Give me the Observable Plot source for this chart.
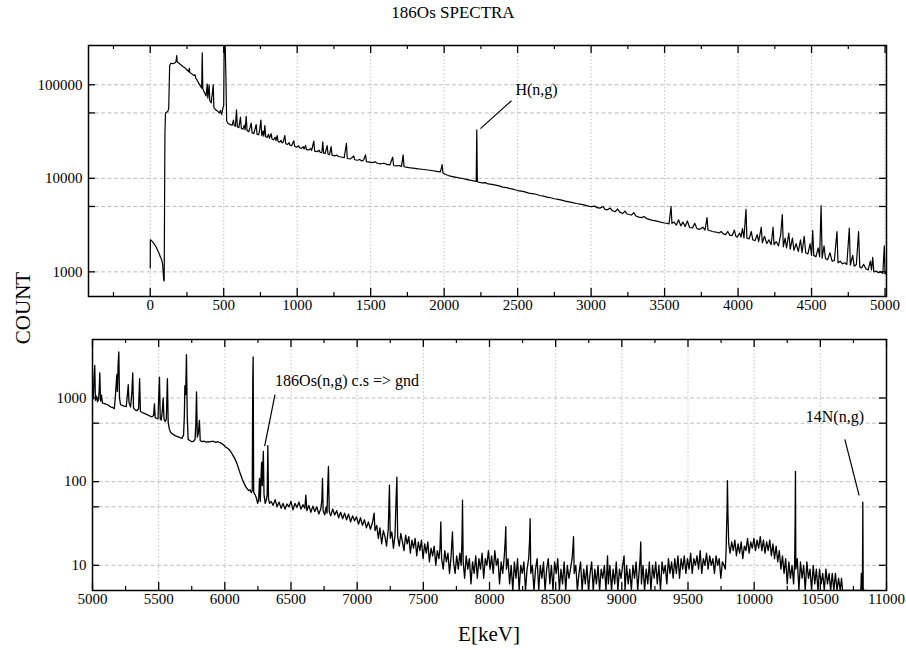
<!DOCTYPE html>
<html><head><meta charset="utf-8">
<script src="https://cdn.jsdelivr.net/npm/d3@7"></script>
<script src="https://cdn.jsdelivr.net/npm/@observablehq/plot@0.6"></script>
<style>
body{margin:0;background:#fff;}
#wrap{position:relative;width:906px;height:650px;font-family:"Liberation Serif","Times New Roman",serif;color:#000;}
.lbl{position:absolute;white-space:nowrap;line-height:1;}
#wrap svg, #wrap svg text{font-family:"Liberation Serif","Times New Roman",serif !important;}
</style></head><body>
<div id="wrap">
<div id="top" style="position:absolute;left:0;top:0;"></div>
<div id="bot" style="position:absolute;left:0;top:322px;"></div>
<div class="lbl" style="left:0;width:906px;top:4px;text-align:center;font-size:17px;">186Os SPECTRA</div>
<div class="lbl" style="left:23px;top:308px;transform:translate(-50%,-50%) rotate(-90deg);font-size:21px;">COUNT</div>
<div class="lbl" style="left:489px;top:634px;transform:translate(-50%,-50%);font-size:21px;">E[keV]</div>
</div>
<script>
// ---- data: top panel spectrum (E keV, counts)
const topSpectrum = [
[0,1100],[1,2200],[10,2150],[20,2050],[30,1950],[40,1850],[50,1700],[60,1580],[70,1430],[78,1350],[84,1220],[88,1000],[92,820],[95,800],[100,30000],[104,50000],[112,51000],[120,52000],[126,56000],[132,160000],[140,170000],[155,168000],[170,172000],[176,178000],[180,205000],[184,175000],[200,168000],[220,158000],[240,150000],[251,144000],[262,138000],[266,150000],[270,135000],[285,130000],[297,126000],[305,128000],[310,118000],[319,112000],[330,104000],[340,98000],[350,92000],[354,220000],[358,90000],[370,82000],[380,76000],[388,102000],[392,72000],[401,100000],[405,68000],[415,64000],[429,100000],[433,57000],[445,54000],[460,52000],[470,50000],[478,53000],[486,48000],[494,56000],[500,60000],[503,300000],[510,300000],[515,120000],
[520,41000],[530,38500],[545,37500],[558,37000],[566,42000],[572,36500],[580,36000],[587,54000],[593,35500],[603,34800],[614,45000],[620,34200],[632,33500],[640,37000],[646,33000],[653,46000],[659,32500],[670,31500],[680,35000],[687,39000],[693,30800],[705,30000],[713,33500],[721,37600],[727,29500],[738,29200],[745,33000],[753,42000],[759,28500],[767,32000],[773,28200],[780,36700],[786,27800],[795,27300],[805,29500],[811,26800],[823,30000],[829,26300],[840,25800],[850,27500],[856,25300],[864,28700],[870,24800],[880,24300],[890,25500],[896,23900],[905,24500],[916,28700],[922,23400],[935,23000],[945,24000],[951,22600],[962,22300],[977,25200],[983,21900],[995,21500],
[1010,22300],[1016,21200],[1030,20900],[1041,21800],[1047,20600],[1057,22500],[1063,20300],[1078,20100],[1092,20800],[1098,19800],[1113,25000],[1119,19500],[1135,19300],[1150,19900],[1156,19000],[1168,18800],[1174,24500],[1180,18600],[1190,18400],[1198,20500],[1204,22400],[1210,18100],[1220,17900],[1231,21800],[1237,17700],[1255,17400],[1270,17700],[1280,17100],[1300,16900],[1320,16600],[1335,23700],[1341,16300],[1360,16100],[1372,16600],[1385,17400],[1391,15800],[1410,15600],[1425,15900],[1440,15300],[1452,15700],[1465,17800],[1471,15100],[1490,14900],[1510,14700],[1530,15000],[1545,14500],[1570,14300],[1590,14500],[1610,14100],[1630,13900],[1650,16800],[1656,13700],[1675,13600],[1695,13700],[1710,13400],[1721,17800],[1727,13300],[1750,13100],[1775,12900],[1800,12800],[1825,12600],[1850,12500],[1875,12350],[1900,12200],[1925,12050],[1950,11850],[1975,11700],[1986,14000],[1992,11400],
[2010,11000],[2030,10700],[2050,10500],[2075,10300],[2100,10100],[2125,9950],[2150,9750],[2175,9550],[2200,9400],[2218,9250],[2222,33000],[2226,9200],[2240,9050],[2260,8950],[2280,9000],[2300,8700],[2325,8600],[2350,8450],[2375,8300],[2400,8050],[2425,7950],[2450,7750],[2475,7600],[2500,7400],[2525,7300],[2550,7150],[2575,6950],[2600,6850],[2625,6750],[2650,6550],[2675,6450],[2700,6300],[2725,6200],[2750,6050],[2775,5950],[2800,5850],[2825,5700],[2850,5600],[2875,5500],[2900,5380],[2925,5300],[2950,5200],[2975,5080],
[3000,4970],[3025,5050],[3040,4850],[3060,4800],[3080,5000],[3095,4650],[3110,4600],[3130,4800],[3145,4500],[3165,4400],[3180,4700],[3195,4350],[3215,4200],[3230,4450],[3245,4150],[3260,4100],[3275,4050],[3290,4300],[3305,3950],[3325,3850],[3345,3800],[3360,3900],[3380,3700],[3400,3620],[3420,3550],[3440,3500],[3460,3450],[3480,3380],[3500,3330],[3520,3300],[3530,3250],[3544,5000],[3550,3300],[3565,3400],[3580,3150],[3595,3600],[3610,3100],[3625,3400],[3640,3050],[3655,3500],[3670,2980],[3690,2950],[3705,3300],[3720,2900],[3740,2850],[3760,3000],[3775,2800],[3789,3800],[3795,2800],[3810,2750],[3825,2700],[3840,2680],[3855,2650],[3870,2600],[3885,2700],[3900,2550],[3915,2500],[3930,2700],[3945,2450],[3960,2450],[3975,2800],[3985,2400],[3995,2350],
[4010,2600],[4020,2350],[4030,2900],[4040,2300],[4054,4650],[4060,2300],[4075,2250],[4090,2700],[4100,2200],[4115,2150],[4130,2500],[4140,2100],[4158,3000],[4165,2050],[4180,2400],[4195,2000],[4210,2200],[4225,1950],[4238,3000],[4245,1950],[4260,2100],[4275,1900],[4290,2500],[4301,4100],[4308,1850],[4320,2300],[4330,1800],[4345,2600],[4355,1750],[4370,2300],[4380,1700],[4395,2000],[4410,1650],[4425,2200],[4435,1600],[4450,2400],[4460,1600],[4475,1550],[4490,2000],[4500,1500],[4508,2770],[4515,1500],[4530,1450],[4545,1800],[4555,1450],[4565,5100],[4572,1400],[4585,1900],[4595,1380],[4610,1350],[4625,1600],[4640,1300],[4655,1320],[4673,2700],[4680,1250],[4695,1300],[4710,1220],[4725,1250],[4740,1200],[4757,2930],[4764,1180],[4780,1500],[4790,1150],[4805,1200],[4820,2700],[4828,1130],[4840,1100],[4855,1200],[4870,1080],[4885,1050],[4900,1300],[4908,1050],[4916,1430],[4924,1000],[4940,1020],[4955,980],[4970,1000],[4985,960],[4995,1900],[5000,950],[5010,980]
];
// ---- data: bottom panel spectrum (E keV, counts)
const bottomSpectrum = [
[5000,950],[5006,1000],[5012,1800],[5017,2450],[5022,940],[5030,1050],[5038,900],[5046,960],[5051,1300],[5055,2000],[5061,920],[5068,1080],[5075,870],[5088,860],[5100,845],[5115,830],[5128,800],[5140,780],[5152,770],[5165,745],[5172,1000],[5178,1400],[5184,1900],[5188,1200],[5194,2600],[5199,3550],[5204,1000],[5212,830],[5225,815],[5240,800],[5255,790],[5264,1100],[5270,1440],[5276,880],[5288,780],[5298,1200],[5304,2000],[5310,760],[5322,720],[5335,705],[5348,740],[5356,1700],[5362,690],[5378,670],[5392,655],[5405,640],[5420,625],[5435,605],[5450,595],[5462,620],[5468,850],[5474,580],[5485,570],[5495,565],[5501,1100],[5506,1780],[5512,560],[5520,545],[5528,720],[5534,1000],[5540,560],[5550,525],[5558,560],[5566,1700],[5572,510],[5580,430],[5590,390],[5603,372],[5618,360],[5633,350],[5648,342],[5662,335],[5676,330],[5688,360],[5694,600],[5698,1400],[5704,1100],[5710,3300],[5716,600],[5723,320],[5738,308],[5752,300],[5765,305],[5775,320],[5781,500],[5786,1180],[5792,340],[5800,380],[5808,540],[5814,310],[5828,300],[5843,305],[5858,296],[5873,300],[5888,298],[5903,304],[5918,300],[5933,295],[5948,300],[5963,292],[5978,285],[5993,272],
[6008,258],[6023,250],[6038,236],[6053,217],[6068,198],[6080,182],[6093,162],[6105,142],[6117,124],[6130,109],[6140,100],[6150,92],[6160,86],[6170,82],[6180,78],[6190,80],[6200,74],[6207,78],[6211,1600],[6214,3100],[6218,75],[6228,70],[6238,64],[6248,55],[6256,62],[6262,109],[6268,58],[6274,120],[6278,171],[6283,90],[6287,140],[6291,230],[6296,70],[6305,55],[6313,60],[6320,70],[6325,270],[6330,62],[6338,55],[6350,58],
[6365,52],[6380,61],[6395,50],[6410,57],[6425,48],[6440,55],[6455,47],[6470,54],[6485,50],[6500,58],[6515,46],[6530,55],[6545,49],[6560,57],[6575,47],[6590,53],[6605,48],[6612,69],[6620,45],[6635,52],[6650,43],[6665,51],[6680,44],[6695,50],[6710,41],[6725,47],[6733,60],[6738,109],[6743,45],[6755,40],[6765,50],[6772,42],[6778,90],[6783,152],[6789,44],[6800,39],[6815,47],[6830,40],[6845,45],[6860,37],[6875,43],[6890,36],[6905,42],[6920,35],[6935,41],[6950,33],[6965,39],[6980,34],[6995,38],
[7010,31],[7025,37],[7040,30],[7055,35],[7070,28],[7085,33],[7100,27],[7115,32],[7128,42],[7135,26],[7148,30],[7160,21],[7172,28],[7185,18],[7198,26],[7210,22],[7222,17],[7235,27],[7244,91],[7250,21],[7262,25],[7274,16],[7286,23],[7293,55],[7300,113],[7306,22],[7318,17],[7330,24],[7342,19],[7354,15],[7366,23],[7378,18],[7390,22],[7402,14],[7414,20],[7426,16],[7438,21],[7450,13],[7462,19],[7474,15],[7486,20],[7498,12],[7510,18],[7522,14],[7534,19],[7546,11],[7558,16],[7570,13],[7582,17],[7594,10],[7606,15],[7618,12],[7626,16],[7632,33],[7638,12],[7650,9],[7662,15],[7674,11],[7686,14],[7698,8],[7710,13],[7720,25],[7728,11],[7740,8],[7752,13],[7764,9],[7776,14],[7786,10],[7792,20],[7796,60],[7801,11],[7812,7],[7824,13],[7836,9],[7848,12],[7860,6],[7872,11],[7884,8],[7896,13],[7908,7],[7920,12],[7932,9],[7944,14],[7956,7],[7968,12],[7980,10],[7992,15],
[8004,9],[8016,13],[8028,8],[8040,15],[8052,10],[8064,12],[8076,6],[8088,11],[8100,8],[8112,13],[8119,20],[8123,29],[8128,9],[8140,12],[8152,6],[8164,10],[8176,4],[8188,11],[8200,7],[8212,12],[8224,5],[8236,10],[8248,8],[8260,11],[8272,4],[8284,9],[8296,12],[8303,20],[8307,36],[8312,8],[8324,10],[8336,4],[8348,9],[8360,12],[8372,5],[8384,10],[8396,7],[8408,11],[8420,3],[8432,9],[8444,12],[8456,6],[8468,10],[8480,4],[8492,11],[8504,8],[8516,12],[8528,5],[8540,9],[8552,6],[8564,11],[8576,4],[8588,10],[8600,7],[8612,9],[8624,12],[8630,16],[8635,22],[8640,8],[8652,10],[8664,3],[8676,8],[8688,11],[8700,5],[8712,9],[8724,6],[8736,10],[8748,3],[8760,8],[8772,11],[8784,5],[8796,9],[8808,6],[8820,10],[8832,4],[8844,9],[8856,7],[8868,10],[8880,4],[8892,13],[8898,6],[8910,10],[8922,5],[8934,9],[8946,6],[8958,11],[8970,4],[8982,9],[8994,7],
[9006,10],[9017,13],[9024,5],[9036,10],[9048,6],[9060,9],[9072,4],[9084,10],[9096,7],[9108,11],[9120,5],[9132,9],[9138,12],[9143,19],[9148,6],[9160,10],[9172,4],[9184,9],[9196,6],[9208,11],[9220,5],[9232,10],[9244,7],[9256,11],[9268,6],[9280,10],[9292,5],[9304,11],[9316,8],[9328,10],[9340,6],[9352,12],[9364,8],[9376,11],[9388,7],[9400,12],[9412,8],[9424,13],[9436,7],[9448,12],[9460,9],[9472,13],[9484,8],[9496,12],[9508,9],[9520,14],[9532,8],[9544,12],[9556,10],[9568,13],[9580,9],[9592,15],[9604,8],[9616,12],[9628,10],[9640,14],[9652,9],[9664,13],[9676,10],[9688,12],[9700,8],[9712,13],[9724,10],[9736,12],[9748,7],[9760,11],[9772,10],[9782,9],[9788,15],[9792,30],[9795,45],[9798,103],[9802,40],[9808,18],[9818,14],[9830,19],[9842,15],[9854,20],[9866,13],[9878,18],[9890,14],[9902,19],[9914,12],[9926,17],[9938,15],[9950,21],[9962,14],[9974,19],[9986,16],[9998,21],
[10010,15],[10022,20],[10034,16],[10046,22],[10058,15],[10070,20],[10082,14],[10094,19],[10106,15],[10118,20],[10130,13],[10142,18],[10154,12],[10166,17],[10178,11],[10190,15],[10202,9],[10214,13],[10226,8],[10238,12],[10250,6],[10262,11],[10274,7],[10286,10],[10298,6],[10306,11],[10310,40],[10312,133],[10315,9],[10326,12],[10338,5],[10350,11],[10362,7],[10374,10],[10386,4],[10398,11],[10410,7],[10422,9],[10434,4],[10446,10],[10458,6],[10470,9],[10482,4],[10494,9],[10506,6],[10518,8],[10530,3],[10542,9],[10554,6],[10566,8],[10578,4],[10590,8],[10602,5],[10614,8],[10626,4],[10638,7],[10650,5],[10660,7],[10668,4],[10672,1],[10806,1],[10810,8],[10813,1],[10818,1],[10821,57],[10824,1],[10840,1]
];
// ---- ticks
const topXTicks = [0,500,1000,1500,2000,2500,3000,3500,4000,4500,5000];
const topXMinor = [-250,250,750,1250,1750,2250,2750,3250,3750,4250,4750];
const topYTicks = [1000,10000,100000];
const topYGrid = [1000,5000,10000,50000,100000];
const botXTicks = [5000,5500,6000,6500,7000,7500,8000,8500,9000,9500,10000,10500,11000];
const botXMinor = [5250,5750,6250,6750,7250,7750,8250,8750,9250,9750,10250,10750];
const botYTicks = [10,100,1000];
const botYGrid = [10,50,100,500,1000];
// ---- annotations
const topNotes = [{label:"H(n,g)", x:2485, y:89000, x1:2247, y1:34000, x2:2458, y2:67500}];
const botNotes = [
  {label:"186Os(n,g) c.s => gnd", x:6380, y:1620, x1:6379, y1:1100, x2:6301, y2:266},
  {label:"14N(n,g)", x:10390, y:590, x1:10685, y1:320, x2:10793, y2:68.5}
];

const FONT = '"Liberation Serif","Times New Roman",serif';

function panel({data, xDomain, yDomain, xTicks, xMinor, yTicks, yGrid, notes, height, mt, mb, ml, mr, lw}) {
  const innerH = height - mt - mb, innerW = 906 - ml - mr;
  const fmt = d => String(d);
  return Plot.plot({
    width: 906, height, marginTop: mt, marginBottom: mb, marginLeft: ml, marginRight: mr,
    style: `font-family: ${FONT}; font-size: 15px; background: transparent; overflow: visible; color: #000;`,
    x: {type: "linear", domain: xDomain, ticks: xTicks, tickFormat: fmt, tickSize: 0, tickPadding: 3, label: null, clamp: true},
    y: {type: "log", domain: yDomain, ticks: yTicks, tickFormat: fmt, tickSize: 0, tickPadding: 6, label: null, clamp: true},
    marks: [
      Plot.ruleX(xTicks, {x: d => d, stroke: "#bdbdbd", strokeWidth: 0.9, strokeDasharray: "1.5,2"}),
      Plot.ruleY(yGrid, {y: d => d, stroke: "#b5b5b5", strokeWidth: 0.9, strokeDasharray: "4,2.5"}),
      Plot.line(data, {x: d => d[0], y: d => d[1], stroke: "#000", strokeWidth: lw, clip: true}),
      Plot.tickX(xTicks, {x: d => d, insetBottom: innerH - 8, stroke: "#000", strokeWidth: 1.3}),
      Plot.tickX(xTicks, {x: d => d, insetTop: innerH - 8, stroke: "#000", strokeWidth: 1.3}),
      Plot.tickX(xMinor, {x: d => d, insetBottom: innerH - 4, stroke: "#000", strokeWidth: 1.2}),
      Plot.tickX(xMinor, {x: d => d, insetTop: innerH - 4, stroke: "#000", strokeWidth: 1.2}),
      Plot.tickY(yGrid, {y: d => d, insetRight: innerW - 7, stroke: "#000", strokeWidth: 1.3}),
      Plot.tickY(yGrid, {y: d => d, insetLeft: innerW - 7, stroke: "#000", strokeWidth: 1.3}),
      Plot.frame({stroke: "#000", strokeWidth: 1.5}),
      Plot.link(notes, {x1: "x1", y1: "y1", x2: "x2", y2: "y2", stroke: "#000", strokeWidth: 1.2}),
      Plot.text(notes, {x: "x", y: "y", text: "label", textAnchor: "start", lineAnchor: "middle", fontSize: 16, fontFamily: FONT, fill: "#000"})
    ]
  });
}

document.getElementById("top").append(panel({
  data: topSpectrum, xDomain: [-420, 5010], yDomain: [545, 263000],
  xTicks: topXTicks, xMinor: topXMinor, yTicks: topYTicks, yGrid: topYGrid, notes: topNotes,
  height: 322, mt: 45, mb: 26, ml: 88, mr: 20, lw: 1.2
}));
document.getElementById("bot").append(panel({
  data: bottomSpectrum, xDomain: [5000, 11000], yDomain: [5, 5000],
  xTicks: botXTicks, xMinor: botXMinor, yTicks: botYTicks, yGrid: botYGrid, notes: botNotes,
  height: 290, mt: 17, mb: 22, ml: 92, mr: 20, lw: 1.3
}));
</script>
</body></html>
